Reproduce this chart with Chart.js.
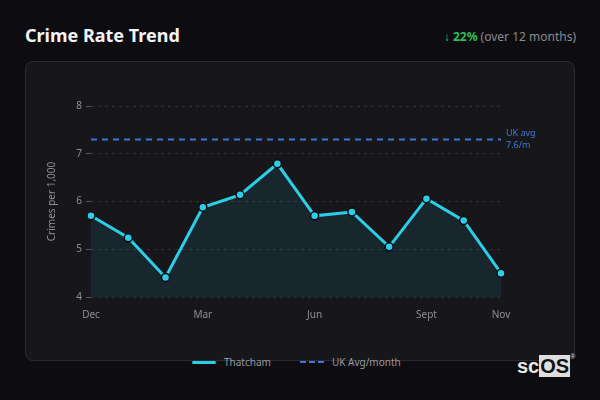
<!DOCTYPE html>
<html>
<head>
<meta charset="utf-8">
<script src="https://cdn.jsdelivr.net/npm/chart.js@4"></script>
<style>
  html, body { margin: 0; padding: 0; }
  body { width: 600px; height: 400px; background: #0d0d11; position: relative; overflow: hidden; font-family: "Noto Sans", sans-serif; }
  .title { position: absolute; left: 25px; top: 23px; color: #f4f4f6; font-size: 18px; font-weight: 700; }
  .change { position: absolute; right: 24px; top: 28px; font-size: 12px; color: #8a8a90; }
  .change b { color: #2fbf5b; }
  .panel { position: absolute; left: 25px; top: 61px; width: 548px; height: 298px; background: #17171b; border: 1px solid #2c2c32; border-radius: 8px; }
  .wrap { position: absolute; left: 25px; top: 65px; width: 550px; height: 266px; }
  .legend { position: absolute; left: 192px; top: 354px; height: 16px; display: flex; align-items: center; font-size: 10px; color: #9a9aa0; }
  .legend .item { display: flex; align-items: center; margin-right: 29px; }
  .legend .sw { width: 24px; height: 0; margin-right: 8px; }
  .legend .solid { border-top: 3px solid #2ccde6; border-radius: 2px; }
  .legend .dash { border-top: 2px dashed #3b78d6; }
  .mark { position: absolute; left: 517px; top: 355px; font-family: "Liberation Sans", Arial, sans-serif; font-size: 20px; font-weight: 700; color: #e8e8e8; }
  .mark span { background: #dedede; color: #111; padding: 0 1px; }
  .mark sup { font-size: 7px; color: #bbb; vertical-align: top; position: relative; top: -2px; }
</style>
</head>
<body>
<div class="title">Crime Rate Trend</div>
<div class="change"><b>↓ 22%</b> (over 12 months)</div>
<div class="panel"></div>
<div class="wrap"><canvas id="trend"></canvas></div>
<div class="legend" id="legend"></div>
<div class="mark">sc<span>OS</span><sup>®</sup></div>
<script>
const months = ['Dec', 'Jan', 'Feb', 'Mar', 'Apr', 'May', 'Jun', 'Jul', 'Aug', 'Sept', 'Oct', 'Nov'];
const shownMonths = ['Dec', 'Mar', 'Jun', 'Sept', 'Nov'];
const thatcham = [5.7, 5.24, 4.41, 5.88, 6.14, 6.79, 5.7, 5.78, 5.05, 6.06, 5.6, 4.5];
const ukAvg = [7.3, 7.3, 7.3, 7.3, 7.3, 7.3, 7.3, 7.3, 7.3, 7.3, 7.3, 7.3];
const ukLabel = ['UK avg', '7.6/m'];
const yTicks = [4, 5, 6, 7, 8];

const cyan = '#2ccde6';
const blue = '#3b78d6';

// text next to the end of the UK average line
const avgLabel = {
  id: 'avgLabel',
  afterDatasetsDraw(chart) {
    const meta = chart.getDatasetMeta(1);
    const last = meta.data[meta.data.length - 1];
    const ctx = chart.ctx;
    ctx.save();
    ctx.fillStyle = blue;
    ctx.font = '9px "Noto Sans"';
    ctx.textBaseline = 'middle';
    ctx.fillText(ukLabel[0], last.x + 5, last.y - 6);
    ctx.fillText(ukLabel[1], last.x + 5, last.y + 6);
    ctx.restore();
  }
};

const chart = new Chart(document.getElementById('trend'), {
  type: 'line',
  data: {
    labels: months,
    datasets: [{
      label: 'Thatcham',
      data: thatcham,
      borderColor: cyan,
      borderWidth: 3,
      backgroundColor: 'rgba(44, 205, 230, 0.09)',
      fill: 'start',
      tension: 0,
      pointRadius: 4,
      pointBackgroundColor: cyan,
      pointBorderColor: '#0e0e12',
      pointBorderWidth: 1.5
    }, {
      label: 'UK Avg/month',
      data: ukAvg,
      borderColor: blue,
      borderWidth: 2,
      borderDash: [6, 5],
      pointRadius: 0,
      fill: false
    }]
  },
  options: {
    responsive: true,
    maintainAspectRatio: false,
    animation: false,
    layout: { padding: { top: 41, right: 74, left: 17, bottom: 0 } },
    plugins: {
      legend: { display: false },
      tooltip: { enabled: false }
    },
    scales: {
      x: {
        grid: { display: false },
        border: { display: false },
        ticks: {
          color: '#8e8e94',
          font: { family: 'Noto Sans', size: 10 },
          autoSkip: false,
          maxRotation: 0,
          padding: 4,
          callback: function (v) {
            const m = months[v];
            return shownMonths.includes(m) ? m : '';
          }
        },
        afterFit(scale) { scale.height = 34; }
      },
      y: {
        min: 4,
        max: 8,
        afterBuildTicks(scale) { scale.ticks = yTicks.map(v => ({ value: v })); },
        grid: { color: '#303036', tickColor: '#55555b', tickLength: 5, drawTicks: true },
        border: { display: false, dash: [3, 4] },
        ticks: { color: '#8e8e94', font: { family: 'Noto Sans', size: 10 }, padding: 4 },
        title: { display: true, text: 'Crimes per 1,000', color: '#8e8e94', font: { family: 'Noto Sans', size: 10 } },
        afterFit(scale) { scale.width = 49; }
      }
    }
  },
  plugins: [avgLabel]
});

// legend built from the dataset labels
const legendEl = document.getElementById('legend');
chart.data.datasets.forEach((ds, i) => {
  const item = document.createElement('div');
  item.className = 'item';
  const sw = document.createElement('div');
  sw.className = 'sw ' + (i === 0 ? 'solid' : 'dash');
  const txt = document.createElement('span');
  txt.textContent = ds.label;
  item.appendChild(sw);
  item.appendChild(txt);
  legendEl.appendChild(item);
});
</script>
</body>
</html>
